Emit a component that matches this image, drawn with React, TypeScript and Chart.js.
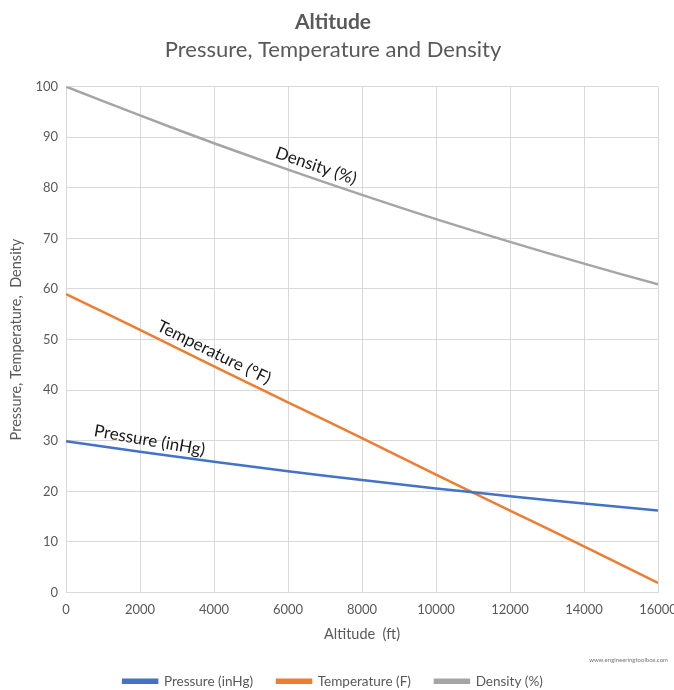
import React, { useEffect, useRef } from "react";
import { Chart, registerables } from "chart.js";

Chart.register(...registerables);

const altitudes = [0, 2000, 4000, 6000, 8000, 10000, 12000, 14000, 16000];
const pressure = [29.92, 27.82, 25.84, 23.98, 22.22, 20.58, 19.03, 17.57, 16.21];
const temperature = [59.0, 51.9, 44.7, 37.6, 30.5, 23.3, 16.2, 9.1, 1.9];
const density = [100, 94.3, 88.8, 83.6, 78.6, 73.8, 69.3, 65.0, 60.9];

const seriesNames = ["Pressure (inHg)", "Temperature (F)", "Density (%)"];
const annotationLabels = ["Pressure (inHg)", "Temperature (°F)", "Density (%)"];
const annotationAt = [2200, 3850, 6650];
const colors = ["#4472C4", "#ED7D31", "#A5A5A5"];

const FONT = "Lato, 'Open Sans', sans-serif";

const labelPlugin = {
  id: "lineLabels",
  afterDatasetsDraw(chart: any) {
    const { ctx, scales } = chart;
    const xs = scales.x;
    const ys = scales.y;
    const series = [pressure, temperature, density];
    ctx.save();
    ctx.font = `17px ${FONT}`;
    ctx.fillStyle = "#1a1a1a";
    ctx.textAlign = "center";
    ctx.textBaseline = "bottom";
    series.forEach((vals, i) => {
      const ax = annotationAt[i];
      let k = 0;
      while (k < altitudes.length - 2 && altitudes[k + 1] < ax) k++;
      const x0 = altitudes[k], x1 = altitudes[k + 1];
      const t = (ax - x0) / (x1 - x0);
      const v = vals[k] + (vals[k + 1] - vals[k]) * t;
      const px = xs.getPixelForValue(ax);
      const py = ys.getPixelForValue(v);
      const dx = xs.getPixelForValue(x1) - xs.getPixelForValue(x0);
      const dy = ys.getPixelForValue(vals[k + 1]) - ys.getPixelForValue(vals[k]);
      let ang = Math.atan2(dy, dx);
      if (i === 0) ang += 0.04;
      ctx.save();
      ctx.translate(px, py);
      ctx.rotate(ang);
      ctx.fillText(annotationLabels[i], 0, -4);
      ctx.restore();
    });
    ctx.restore();
  },
  afterDraw(chart: any) {
    const { ctx } = chart;
    ctx.save();
    ctx.font = `6px ${FONT}`;
    ctx.fillStyle = "#777";
    ctx.textAlign = "right";
    ctx.textBaseline = "middle";
    ctx.fillText("www.engineeringtoolbox.com", 668, 660);
    ctx.restore();
  },
};

export default function App() {
  const ref = useRef<HTMLCanvasElement | null>(null);
  useEffect(() => {
    document.body.style.margin = "0";
    const series = [pressure, temperature, density];
    const chart = new Chart(ref.current as HTMLCanvasElement, {
      type: "line",
      data: {
        datasets: series.map((vals, i) => ({
          label: seriesNames[i],
          data: altitudes.map((a, j) => ({ x: a, y: vals[j] })),
          borderColor: colors[i],
          backgroundColor: colors[i],
          borderWidth: 2.5,
          pointRadius: 0,
          tension: 0.3,
        })),
      },
      options: {
        animation: false,
        responsive: false,
        layout: { padding: { left: 8, right: 16, top: 0, bottom: -8 } },
        plugins: {
          title: {
            display: true,
            text: "Altitude",
            color: "#595959",
            font: { family: FONT, size: 21, weight: "bold" },
            padding: { top: 10, bottom: 2 },
          },
          subtitle: {
            display: true,
            text: "Pressure, Temperature and Density",
            color: "#595959",
            font: { family: FONT, size: 22 },
            padding: { top: 0, bottom: 23 },
          },
          legend: {
            position: "bottom",
            labels: {
              boxWidth: 34,
              boxHeight: 3,
              color: "#595959",
              font: { family: FONT, size: 13.5 },
              padding: 24,
            },
          },
          tooltip: { enabled: false },
        },
        scales: {
          x: {
            type: "linear",
            min: 0,
            max: 16000,
            ticks: {
              stepSize: 2000,
              color: "#595959",
              font: { family: FONT, size: 13 },
              maxRotation: 0,
              padding: 10,
              callback: (v: any) => String(v),
            },
            grid: { color: "#d9d9d9", drawTicks: false },
            border: { color: "#d9d9d9" },
            title: {
              display: true,
              text: "Altitude  (ft)",
              color: "#595959",
              font: { family: FONT, size: 14.5 },
              padding: { top: -2, bottom: 7 },
            },
            afterFit: (s: any) => {
              s.paddingRight = 0;
            },
          },
          y: {
            min: 0,
            max: 100,
            ticks: {
              stepSize: 10,
              color: "#595959",
              font: { family: FONT, size: 13 },
              padding: 8,
            },
            grid: { color: "#d9d9d9", drawTicks: false },
            border: { color: "#d9d9d9" },
            title: {
              display: true,
              text: "Pressure, Temperature,  Density",
              color: "#595959",
              font: { family: FONT, size: 14.5 },
              padding: { top: 0, bottom: 2 },
            },
          },
        },
      },
      plugins: [labelPlugin],
    } as any);
    return () => chart.destroy();
  }, []);
  return <canvas ref={ref} width={674} height={690} style={{ display: "block" }} />;
}
